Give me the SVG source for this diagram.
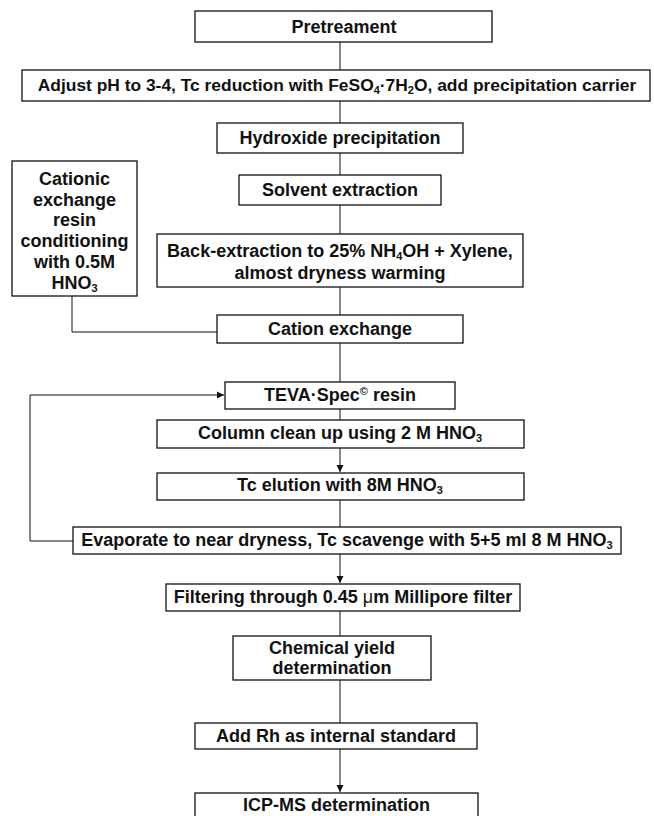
<svg xmlns="http://www.w3.org/2000/svg" width="654" height="816" viewBox="0 0 654 816">
<style>
.box{fill:#fff;stroke:#111;stroke-width:1.3}
.t{font-family:"Liberation Sans",Arial,sans-serif;font-weight:bold;font-size:18px;fill:#111;text-anchor:middle}
.sub{font-size:11px}
.c{fill:none;stroke:#111;stroke-width:1}
</style>
<defs>
<marker id="ah" markerWidth="8" markerHeight="8" refX="7" refY="4" orient="auto" markerUnits="userSpaceOnUse">
<path d="M0,0.5 L7,4 L0,7.5 Z" fill="#111"/>
</marker>
</defs>
<rect width="654" height="816" fill="#fff"/>
<g id="connectors">
<path class="c" d="M340,42 V70"/>
<path class="c" d="M340,101 V123"/>
<path class="c" d="M340,153 V175"/>
<path class="c" d="M340,205 V234"/>
<path class="c" d="M72,296 V332 H217"/>
<path class="c" d="M340,287 V315"/>
<path class="c" d="M340,343 V382"/>
<path class="c" d="M340,409 V420"/>
<path class="c" d="M340,448 V472" marker-end="url(#ah)"/>
<path class="c" d="M340,500 V527"/>
<path class="c" d="M73,541 H30 V395 H224" marker-end="url(#ah)"/>
<path class="c" d="M340,554 V583" marker-end="url(#ah)"/>
<path class="c" d="M340,611 V636"/>
<path class="c" d="M340,680 V723"/>
<path class="c" d="M340,749 V792" marker-end="url(#ah)"/>
</g>
<g id="pretreatment"><rect class="box" x="195" y="11" width="297" height="31"/><text class="t" x="344" y="33">Pretreament</text></g>
<g id="adjust"><rect class="box" x="22" y="70" width="628" height="31"/><text class="t" x="337" y="91" style="font-size:17.4px">Adjust pH to 3-4, Tc reduction with FeSO<tspan class="sub" dy="3">4</tspan><tspan dy="-3">·7H</tspan><tspan class="sub" dy="3">2</tspan><tspan dy="-3">O, add precipitation carrier</tspan></text></g>
<g id="hydroxide"><rect class="box" x="217" y="123" width="246" height="30"/><text class="t" x="340" y="144">Hydroxide precipitation</text></g>
<g id="solvent"><rect class="box" x="239" y="175" width="202" height="30"/><text class="t" x="340" y="196">Solvent extraction</text></g>
<g id="cationic"><rect class="box" x="12" y="161" width="125" height="135"/>
<text class="t" x="74.5" y="185">Cationic</text>
<text class="t" x="74.5" y="206">exchange</text>
<text class="t" x="74.5" y="226">resin</text>
<text class="t" x="74.5" y="247">conditioning</text>
<text class="t" x="74.5" y="268">with 0.5M</text>
<text class="t" x="74.5" y="289">HNO<tspan class="sub" dy="3">3</tspan></text></g>
<g id="backextraction"><rect class="box" x="157" y="234" width="366" height="53"/>
<text class="t" x="340" y="257">Back-extraction to 25% NH<tspan class="sub" dy="3">4</tspan><tspan dy="-3">OH + Xylene,</tspan></text>
<text class="t" x="340" y="279">almost dryness warming</text></g>
<g id="cationexchange"><rect class="box" x="217" y="315" width="246" height="28"/><text class="t" x="340" y="335">Cation exchange</text></g>
<g id="teva"><rect class="box" x="225" y="382" width="230" height="27"/><text class="t" x="340" y="401">TEVA·Spec<tspan class="sub" dy="-6">©</tspan><tspan dy="6"> resin</tspan></text></g>
<g id="columnclean"><rect class="box" x="157" y="420" width="367" height="28"/><text class="t" x="340" y="439">Column clean up using 2 M HNO<tspan class="sub" dy="3">3</tspan></text></g>
<g id="tcelution"><rect class="box" x="157" y="473" width="367" height="27"/><text class="t" x="340" y="491">Tc elution with 8M HNO<tspan class="sub" dy="3">3</tspan></text></g>
<g id="evaporate"><rect class="box" x="73" y="527" width="548" height="27"/><text class="t" x="347" y="546">Evaporate to near dryness, Tc scavenge with 5+5 ml 8 M HNO<tspan class="sub" dy="3">3</tspan></text></g>
<g id="filtering"><rect class="box" x="166" y="584" width="354" height="27"/><text class="t" x="343" y="603">Filtering through 0.45 <tspan font-weight="normal">μ</tspan>m Millipore filter</text></g>
<g id="chemicalyield"><rect class="box" x="233" y="636" width="198" height="44"/>
<text class="t" x="332" y="654">Chemical yield</text>
<text class="t" x="332" y="674">determination</text></g>
<g id="addrh"><rect class="box" x="195" y="723" width="282" height="26"/><text class="t" x="336" y="742">Add Rh as internal standard</text></g>
<g id="icpms"><rect class="box" x="195" y="793" width="283" height="30"/><text class="t" x="336.5" y="811">ICP-MS determination</text></g>
</svg>
